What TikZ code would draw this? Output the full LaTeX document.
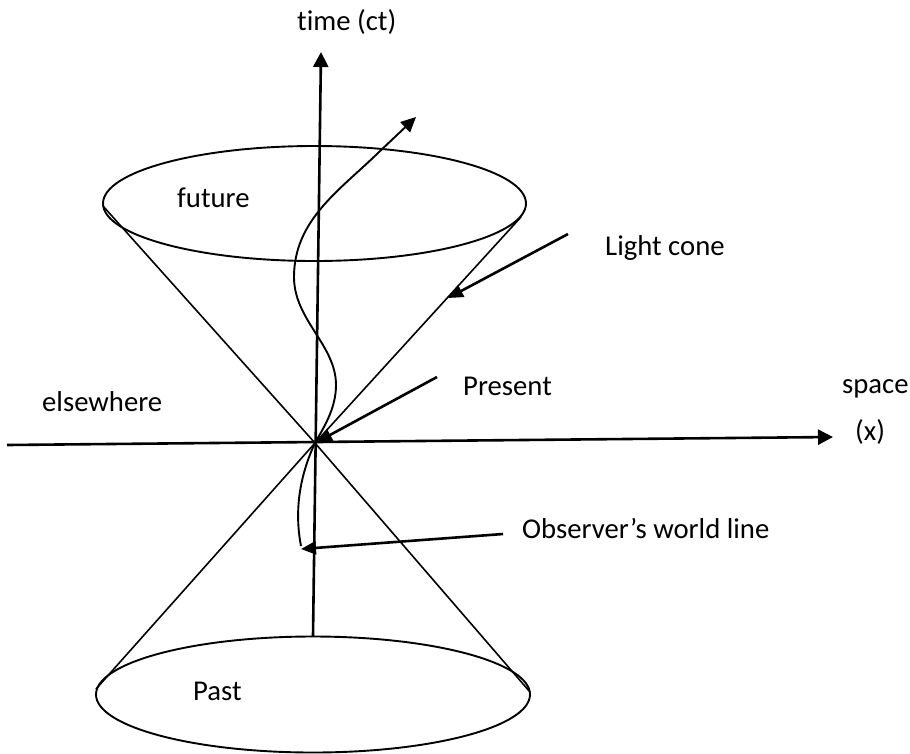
\documentclass[tikz,border=0pt]{standalone}
\usepackage{fontspec}
\setmainfont[Ligatures=NoCommon]{Carlito}
\usetikzlibrary{arrows.meta}
\begin{document}
\begin{tikzpicture}[x=1pt,y=-1pt,
  lbl/.style={anchor=base west, inner sep=0pt, font=\fontsize{28.7}{34}\selectfont},
  axis/.style={line width=2.6pt, -{Triangle[length=15pt,width=15pt]}},
  cone/.style={line width=1.6pt},
  rim/.style={line width=1.9pt},
  wline/.style={line width=1.9pt},
  note/.style={line width=2.6pt, -{Triangle[length=15pt,width=13pt]}},
]
\path[use as bounding box] (0,0) rectangle (910,753);

% key points
\coordinate (O) at (315,443);
\coordinate (tbot) at (313,636);
\coordinate (ttop) at (321,52);
\coordinate (xl) at (7,445);
\coordinate (xr) at (833,437);
\coordinate (ful) at (103,206);
\coordinate (fur) at (521,217);
\coordinate (pal) at (96,689);
\coordinate (par) at (530,692);

% ellipses (rims of the cone)
\draw[rim] (314.5,203.5) ellipse [x radius=211.5, y radius=57.5];
\draw[rim] (313,694.5) ellipse [x radius=217, y radius=58];

% cone lines
\draw[cone] (ful) -- (O) -- (par);
\draw[cone] (fur) -- (O) -- (pal);

% axes
\draw[axis] (tbot) -- (ttop);
\draw[axis] (xl) -- (xr);

% observer's world line
\coordinate (wtip) at (416,117);
\coordinate (wlow) at (301,546);
\draw[wline, {Triangle[length=15pt,width=14pt]}-] (wtip) -- (378,153)
  .. controls (340,190) and (294,220) .. (294,277)
  .. controls (294,320) and (336,345) .. (336,385)
  .. controls (336,410) and (322,430) .. (O);
\draw[wline] (O) .. controls (300,475) and (294,510) .. (wlow);

% labels
\node[lbl] (tlab) at (297,30) {time (ct)};
\node[lbl] (fut) at (177,207) {future};
\node[lbl] (past) at (193,700) {Past};
\node[lbl] (else) at (42,411) {elsewhere};
\node[lbl] (lc) at (605,255) {Light cone};
\node[lbl] (pres) at (463,395) {Present};
\node[lbl] (spc) at (842,393) {space};
\node[lbl] (xx) at (855,440) {(x)};
\node[lbl] (obs) at (522,538) {Observer’s world line};

% annotation arrows
\coordinate (lcs) at (568,234);
\coordinate (lct) at (448,298);
\coordinate (prs) at (437,377);
\coordinate (prt) at (317,442);
\coordinate (obss) at (503,534);
\coordinate (obst) at (301,549);
\draw[note] (lcs) -- (lct);
\draw[note] (prs) -- (prt);
\draw[note] (obss) -- (obst);
\end{tikzpicture}
\end{document}
